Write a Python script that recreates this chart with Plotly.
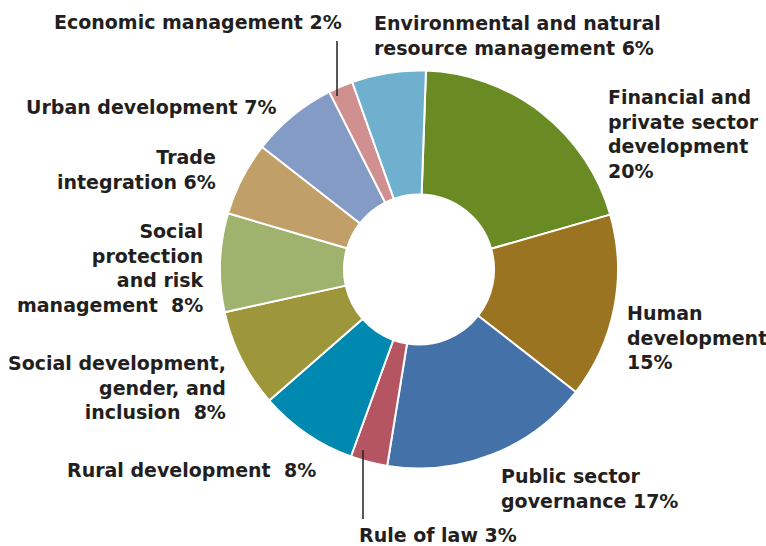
import plotly.graph_objects as go

# Share of lending by sector theme, clockwise from the top
sectors = [
    "Financial and private sector development",
    "Human development",
    "Public sector governance",
    "Rule of law",
    "Rural development",
    "Social development, gender, and inclusion",
    "Social protection and risk management",
    "Trade integration",
    "Urban development",
    "Economic management",
    "Environmental and natural resource management",
]
shares = [20, 15, 17, 3, 8, 8, 8, 6, 7, 2, 6]
colors = [
    "#6A8B23", "#9A7420", "#4472A8", "#B55561", "#0089B0", "#9E963A",
    "#9FB26E", "#C0A068", "#849CC5", "#D19090", "#6FB0CF",
]

W, H = 766, 546
TEXT = "#231F20"
FONT = dict(family="DejaVu Sans", size=19, color=TEXT, weight=700)

fig = go.Figure(
    go.Pie(
        labels=sectors,
        values=shares,
        sort=False,
        direction="clockwise",
        rotation=2,
        hole=0.377,
        marker=dict(colors=colors, line=dict(color="white", width=2)),
        textinfo="none",
        hoverinfo="label+percent",
        domain=dict(x=[220 / W, 618 / W], y=[77.5 / H, 475.5 / H]),
        showlegend=False,
    )
)

# Label blocks: (text, x px, y px of block centre, anchor)
labels = [
    ("Economic management 2%", 344, 22, "right"),
    ("Environmental and natural<br>resource management 6%", 372, 35, "left"),
    ("Financial and<br>private sector<br>development<br>20%", 606, 134, "left"),
    ("Human<br>development<br>15%", 625, 337, "left"),
    ("Public sector<br>governance 17%", 499, 488, "left"),
    ("Rule of law 3%", 357, 535, "left"),
    ("Rural development  8%", 318, 470, "right"),
    ("Social development,<br>gender, and<br>inclusion  8%", 228, 387, "right"),
    ("Social<br>protection<br>and risk<br>management  8%", 206, 268, "right"),
    ("Trade<br>integration 6%", 218, 169, "right"),
    ("Urban development 7%", 278, 107, "right"),
]
for text, px, py, anchor in labels:
    fig.add_annotation(
        text=text, xref="paper", yref="paper",
        x=px / W, y=1 - py / H, xanchor=anchor, yanchor="middle",
        align=anchor, showarrow=False, font=FONT,
    )

# Leader lines for the two thin slices
for x0, y0, y1 in [(337, 41, 96), (363, 450, 519)]:
    fig.add_shape(
        type="line", xref="paper", yref="paper",
        x0=x0 / W, x1=x0 / W, y0=1 - y0 / H, y1=1 - y1 / H,
        line=dict(color=TEXT, width=1.5),
    )

fig.update_layout(
    width=W, height=H,
    margin=dict(l=0, r=0, t=0, b=0),
    paper_bgcolor="white",
    plot_bgcolor="white",
)

fig.write_html("out.html")
